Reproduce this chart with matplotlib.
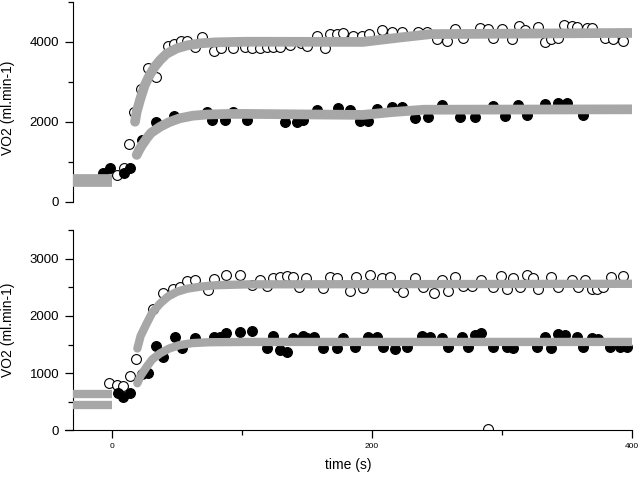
import matplotlib.pyplot as plt
from matplotlib.ticker import MultipleLocator

plt.rcParams['font.family'] = ['Liberation Sans', 'DejaVu Sans']

# ---- top panel: scatter data (time s, VO2 ml/min) ----
top_open_t = [4, 9, 13, 17, 22, 28, 34, 43, 48, 53, 58, 64, 69, 78.5, 84, 93, 102, 108, 114,
              119, 124, 129, 137, 145, 150, 158, 164, 168, 173, 178, 185, 192, 198, 208, 215,
              223, 235, 242, 250, 258, 264, 270, 283, 289, 293, 300, 308, 313, 318, 328, 333,
              338, 343, 348, 354, 358, 365, 369, 379, 385, 393]
top_open_v = [670, 835, 1440, 2240, 2820, 3350, 3110, 3900, 3940, 4025, 4025, 3875, 4125, 3775,
              3835, 3835, 3875, 3835, 3835, 3875, 3860, 3875, 3920, 3975, 3890, 4140, 3835, 4185,
              4185, 4210, 4140, 4140, 4185, 4290, 4235, 4235, 4250, 4250, 4070, 4025, 4310, 4085,
              4335, 4310, 4085, 4310, 4060, 4390, 4290, 4375, 4000, 4060, 4085, 4420, 4390, 4360,
              4335, 4335, 4085, 4060, 4025]
top_filled_t = [-7, -1.5, 9, 14, 23, 34, 48, 73, 77, 87, 93, 104, 133, 142, 147, 158, 174, 183,
                191, 197, 204, 215, 223, 233, 243, 254, 268, 279, 293, 302, 312, 319, 333, 343,
                350, 362]
top_filled_v = [715, 835, 725, 835, 1540, 1985, 2150, 2235, 2040, 2040, 2235, 2040, 2000, 2000,
                2040, 2290, 2335, 2290, 2025, 2025, 2320, 2375, 2375, 2085, 2125, 2410, 2125, 2125,
                2390, 2140, 2420, 2170, 2440, 2475, 2460, 2170]

# top panel: baselines and fitted curves
top_base_t = [-30, 0]
top_base_hi = [580, 580]
top_base_lo = [500, 500]
top_fit_hi_t = [17.7, 19, 21.5, 25, 29, 33, 37, 42, 50, 58, 68, 80, 104, 193, 220, 245, 400]
top_fit_hi_v = [2000, 2250, 2540, 2900, 3170, 3380, 3540, 3700, 3835, 3910, 3960, 3985, 4000,
                3995, 4100, 4190, 4220]
top_fit_lo_t = [19, 21, 23, 26.7, 30, 37, 44, 52, 62, 73, 90, 104, 193, 215, 240, 400]
top_fit_lo_v = [1170, 1300, 1410, 1585, 1720, 1875, 1990, 2085, 2150, 2180, 2195, 2195, 2170,
                2240, 2300, 2310]

# ---- bottom panel: scatter data ----
bot_open_t = [-2, 3.6, 8.7, 14, 18.5, 31.5, 39, 47, 52, 58, 64, 74, 78.5, 88, 98.5, 108, 114,
              119, 124, 129, 134.6, 139, 144, 149, 162, 168, 173, 183, 188, 193, 198.5, 207.7,
              214, 219, 224, 233, 239, 248, 253.6, 258.5, 264, 270, 276.7, 283.6, 289, 293, 299,
              303.6, 308.5, 314, 319, 324, 328, 338, 343, 353.6, 358.5, 364, 369, 373, 378, 384,
              393]
bot_open_v = [830, 790, 770, 945, 1245, 2120, 2410, 2470, 2500, 2620, 2640, 2455, 2645, 2720,
              2720, 2545, 2630, 2525, 2660, 2690, 2700, 2680, 2500, 2660, 2485, 2690, 2660, 2445,
              2680, 2485, 2720, 2660, 2680, 2515, 2425, 2660, 2515, 2410, 2630, 2445, 2690, 2525,
              2525, 2640, 10, 2515, 2700, 2465, 2660, 2515, 2720, 2660, 2465, 2690, 2515, 2640,
              2515, 2640, 2465, 2465, 2515, 2690, 2700]
bot_filled_t = [4.6, 8.7, 14, 23, 28, 34, 39.5, 48.5, 54, 64, 78.5, 83, 88, 98.5, 108, 119, 124,
                129, 134.6, 139, 147, 150, 155, 162, 173, 178, 187, 197, 204, 208.5, 218, 227,
                238.5, 244.6, 253.6, 258.5, 269, 274, 279, 284, 293, 303.6, 308.5, 326.7, 333,
                338, 343, 348.5, 357.5, 362.5, 369, 374, 383, 391, 396]
bot_filled_v = [645, 585, 655, 990, 1000, 1475, 1285, 1625, 1430, 1610, 1625, 1640, 1695, 1725,
                1740, 1430, 1650, 1400, 1375, 1610, 1650, 1610, 1640, 1430, 1430, 1610, 1450,
                1640, 1625, 1450, 1415, 1450, 1650, 1625, 1610, 1450, 1640, 1460, 1665, 1695,
                1460, 1450, 1430, 1460, 1625, 1430, 1680, 1665, 1625, 1460, 1610, 1590, 1450,
                1450, 1450]

bot_base_t = [-30, 0]
bot_base_hi = [630, 630]
bot_base_lo = [430, 430]
bot_fit_hi_t = [19.5, 22, 26.7, 31, 37, 43, 50, 58, 68, 80, 104, 400]
bot_fit_hi_v = [1430, 1650, 1870, 2060, 2220, 2340, 2425, 2480, 2515, 2540, 2555, 2565]
bot_fit_lo_t = [19.5, 22, 26.7, 31, 37, 44, 52, 62, 75, 104, 400]
bot_fit_lo_v = [820, 950, 1110, 1240, 1345, 1430, 1490, 1525, 1540, 1545, 1545]

gray = '#a7a7a7'

fig = plt.figure(figsize=(6.4, 4.78), dpi=100)
ax1 = fig.add_axes([0.1019, 0.578, 0.8856, 0.4184])
ax2 = fig.add_axes([0.1019, 0.1004, 0.8856, 0.4174])


def draw(ax, open_t, open_v, fill_t, fill_v, base_t, base_hi, base_lo, fits, lw):
    ax.scatter(open_t, open_v, s=50, facecolor='white', edgecolor='black', linewidth=0.8, zorder=2)
    ax.scatter(fill_t, fill_v, s=50, facecolor='black', edgecolor='black', linewidth=0.8, zorder=2)
    for yy in (base_hi, base_lo):
        ax.plot(base_t, yy, color=gray, lw=lw, solid_capstyle='butt', zorder=3)
    for ft, fv in fits:
        ax.plot(ft, fv, color=gray, lw=lw, solid_capstyle='round', zorder=3)
    ax.set_xlim(-36, 400)
    ax.spines['top'].set_visible(False)
    ax.spines['right'].set_visible(False)
    ax.spines['left'].set_position(('data', -30))
    ax.tick_params(axis='both', which='major', direction='out', length=6, width=0.9,
                   labelsize=9.5, pad=4)
    ax.tick_params(axis='both', which='minor', direction='out', length=3.5, width=0.9)
    ax.set_ylabel('VO2 (ml.min-1)', fontsize=10)


draw(ax1, top_open_t, top_open_v, top_filled_t, top_filled_v, top_base_t, top_base_hi,
     top_base_lo, [(top_fit_hi_t, top_fit_hi_v), (top_fit_lo_t, top_fit_lo_v)], 7)
ax1.set_ylim(0, 5000)
ax1.yaxis.set_major_locator(MultipleLocator(2000))
ax1.yaxis.set_minor_locator(MultipleLocator(1000))
ax1.spines['bottom'].set_visible(False)
ax1.set_xticks([])
ax1.yaxis.set_label_coords(-0.088, 0.47)

draw(ax2, bot_open_t, bot_open_v, bot_filled_t, bot_filled_v, bot_base_t, bot_base_hi,
     bot_base_lo, [(bot_fit_hi_t, bot_fit_hi_v), (bot_fit_lo_t, bot_fit_lo_v)], 6)
ax2.set_ylim(0, 3500)
ax2.yaxis.set_major_locator(MultipleLocator(1000))
ax2.yaxis.set_minor_locator(MultipleLocator(500))
ax2.xaxis.set_major_locator(MultipleLocator(200))
ax2.xaxis.set_minor_locator(MultipleLocator(100))
ax2.tick_params(axis='x', which='major', labelsize=6, pad=3)
ax2.set_xlabel('time (s)', fontsize=10, labelpad=6)
ax2.yaxis.set_label_coords(-0.088, 0.5)

fig.savefig('out.png', dpi=100)
